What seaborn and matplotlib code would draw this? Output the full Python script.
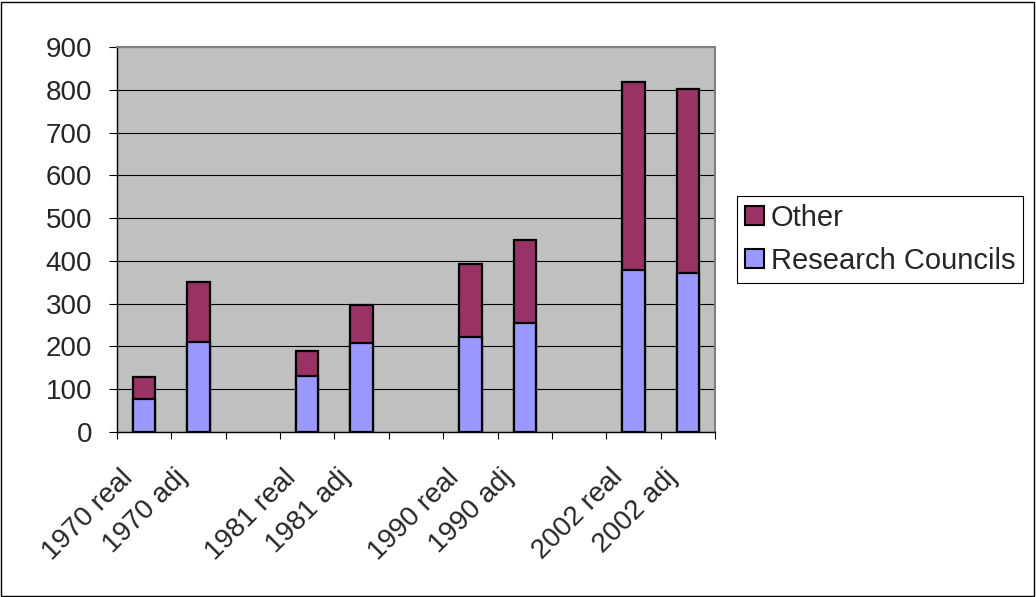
import numpy as np
import pandas as pd
import matplotlib
matplotlib.use("Agg")
import matplotlib.pyplot as plt
import matplotlib.transforms as mtransforms
from matplotlib.patches import Patch, Rectangle
import seaborn as sns

# Funding by year (real and inflation-adjusted), blank slots separate the year groups
categories = ["1970 real", "1970 adj", " ", "1981 real", "1981 adj", "  ",
              "1990 real", "1990 adj", "   ", "2002 real", "2002 adj"]
research_councils = [76, 210, np.nan, 132, 207, np.nan, 223, 254, np.nan, 378, 372]
other = [52, 140, np.nan, 58, 89, np.nan, 170, 194, np.nan, 441, 429]
y_ticks = [0, 100, 200, 300, 400, 500, 600, 700, 800, 900]

df = pd.DataFrame({"category": categories,
                   "Research Councils": research_councils,
                   "Other": other})
df["total"] = df["Research Councils"] + df["Other"]

sns.set_theme(style="white")
plt.rcParams["font.family"] = ["Liberation Sans", "DejaVu Sans"]

FS = 20

fig = plt.figure(figsize=(10.36, 5.97), dpi=100)
ax = fig.add_axes([117 / 1036, 1 - 432 / 597, (715 - 117) / 1036, (432 - 47) / 597])
ax.set_facecolor("#C0C0C0")

c_other = "#993366"
c_rc = "#9999FF"

sns.barplot(data=df, x="category", y="total", order=categories, color=c_other,
            width=0.41, edgecolor="black", linewidth=1.6, saturation=1, ax=ax, zorder=3)
sns.barplot(data=df, x="category", y="Research Councils", order=categories, color=c_rc,
            width=0.41, edgecolor="black", linewidth=1.6, saturation=1, ax=ax, zorder=4)

ax.set_ylim(0, 900)
ax.set_xlim(-0.5, len(categories) - 0.5)
ax.set_yticks(y_ticks)
ax.set_yticklabels([str(v) for v in y_ticks], fontsize=FS)
ax.yaxis.grid(True, color="black", linewidth=0.8, zorder=0)
ax.set_axisbelow(True)

labels = [c if c.strip() else "" for c in categories]
ax.set_xticks(range(len(categories)))
ax.set_xticklabels(labels, fontsize=FS, rotation=45, ha="right",
                   rotation_mode="anchor", va="center")
ax.set_xticks(np.arange(-0.5, len(categories), 1), minor=True)
ax.tick_params(axis="x", which="major", length=0, pad=30)
ax.tick_params(axis="x", which="minor", length=5, width=0.8, direction="out", color="black", bottom=True)
ax.tick_params(axis="y", which="major", length=6, width=0.8, direction="out", color="black", left=True, pad=12)
ax.set_xlabel("")
ax.set_ylabel("")

# nudge the slanted category labels a little to the left
shift = mtransforms.ScaledTranslation(-0.15, 0, fig.dpi_scale_trans)
for lbl in ax.get_xticklabels():
    lbl.set_transform(lbl.get_transform() + shift)

for side in ["left", "bottom"]:
    ax.spines[side].set_color("black")
    ax.spines[side].set_linewidth(1.0)
for side in ["top", "right"]:
    ax.spines[side].set_color("#808080")
    ax.spines[side].set_linewidth(1.5)

handles = [Patch(facecolor=c_other, edgecolor="black", linewidth=1.5, label="Other"),
           Patch(facecolor=c_rc, edgecolor="black", linewidth=1.5, label="Research Councils")]
leg = fig.legend(handles=handles, loc="upper left",
                 bbox_to_anchor=(737 / 1036, 1 - 196 / 597),
                 fontsize=21, frameon=True, fancybox=False, framealpha=1,
                 edgecolor="black", handlelength=0.65, handleheight=0.62,
                 handletextpad=0.22, labelspacing=0.5, borderpad=0.28, borderaxespad=0)
leg.get_frame().set_linewidth(0.8)

# Outer border around the whole chart
fig.patches.append(Rectangle((0.001, 0.0017), 0.997, 0.995, transform=fig.transFigure,
                             fill=False, edgecolor="black", linewidth=1.0))

fig.savefig("out.png", dpi=100, facecolor="white")
